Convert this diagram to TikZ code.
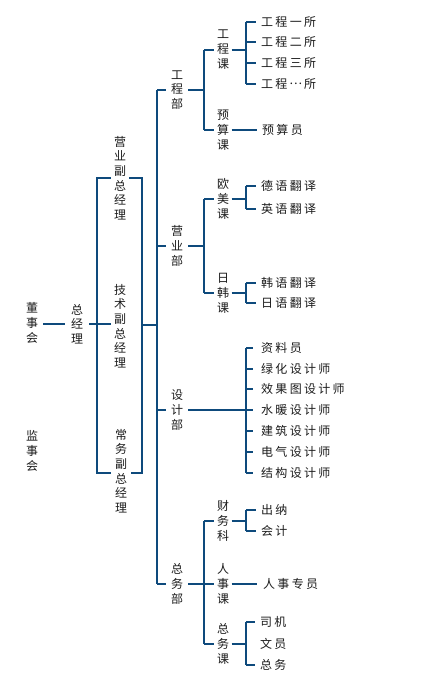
\documentclass[tikz,border=0pt]{standalone}
\usepackage{fontspec}
\setmainfont{Noto Sans CJK SC}
\newfontfamily\hfam[LetterSpace=19]{Noto Sans CJK SC}
\definecolor{lc}{HTML}{0E4A7C}
\definecolor{tc}{HTML}{1C1C1C}
\tikzset{
  ln/.style={draw=lc, line width=1.2pt},
  vt/.style={align=center, text=tc, inner xsep=5pt, inner ysep=0pt,
    font=\fontsize{12pt}{14.6pt}\selectfont},
  vtw/.style={vt, fill=white, inner xsep=3pt},
  vtc/.style={vt, inner xsep=2.5pt, font=\fontsize{12pt}{15pt}\selectfont},
  ht/.style={anchor=west, text=tc, inner xsep=5pt, inner ysep=0pt,
    font=\hfam\fontsize{12pt}{14pt}\selectfont},
}
\begin{document}
\begin{tikzpicture}[x=1pt,y=-1pt]
\useasboundingbox[fill=white] (0,0) rectangle (429,679);

% ---- level 0/1
\node[vt] (dsh) at (32,323) {董\\事\\会};
\node[vt] (jsh) at (32,451) {监\\事\\会};
\node[vt, inner xsep=6pt] (zjl) at (77,324) {总\\经\\理};

% ---- vice manager bracket
\coordinate (b1tl) at (97,178);
\coordinate (b1br) at (142,473);
\coordinate (b1r) at (142,325);
\draw[ln] (b1tl) rectangle (b1br);
\node[vtw] (yyf) at (120,178) {营\\业\\副\\总\\经\\理};
\node[vtw] (jsf) at (120,326) {技\\术\\副\\总\\经\\理};
\node[vtw, inner xsep=4pt] (cwf) at (121,471) {常\\务\\副\\总\\经\\理};

\draw[ln] (dsh.east |- 0,324) -- (zjl.west |- 0,324);
\draw[ln] (zjl.east |- 0,324) -- (jsf.west |- 0,324);

% ---- trunk
\coordinate (t1) at (157,90);
\coordinate (t2) at (157,246);
\coordinate (t3) at (157,410);
\coordinate (t4) at (157,584);
\coordinate (tm) at (157,325);
\draw[ln] (b1r) -- (tm);
\draw[ln] (t1) -- (t4);

% ---- departments
\node[vt] (gcb) at (177,90) {工\\程\\部};
\node[vt] (yyb) at (177,246) {营\\业\\部};
\node[vt] (sjb) at (177,410) {设\\计\\部};
\node[vt] (zwb) at (177,584) {总\\务\\部};
\draw[ln] (t1) -- (gcb.west);
\draw[ln] (t2) -- (yyb.west);
\draw[ln] (t3) -- (sjb.west);
\draw[ln] (t4) -- (zwb.west);

% ---- 工程部
\coordinate (g1) at (204,50);
\coordinate (g2) at (204,130);
\draw[ln] (gcb.east) -- (gcb.east -| g1);
\draw[ln] (g1) -- (g2);
\node[vtc] (gck) at (223,50) {工\\程\\课};
\node[vtc] (ysk) at (223,130) {预\\算\\课};
\draw[ln] (g1) -- (gck.west);
\draw[ln] (g2) -- (ysk.west);
\coordinate (gj) at (246,50);
\coordinate (gj1) at (246,22);
\coordinate (gj4) at (246,84);
\draw[ln] (gck.east) -- (gj);
\draw[ln] (gj1) -- (gj4);
\node[ht] (gs1) at (256,22) {工程一所};
\node[ht] (gs2) at (256,42) {工程二所};
\node[ht] (gs3) at (256,63) {工程三所};
\node[ht] (gs4) at (256,84) {工程\hspace{2.3pt}\makebox[12pt]{\raisebox{0.33em}{…}}\hspace{2.3pt}所};
\draw[ln] (gj1) -- (gs1.west);
\draw[ln] (gs2.west -| gj) -- (gs2.west);
\draw[ln] (gs3.west -| gj) -- (gs3.west);
\draw[ln] (gj4) -- (gs4.west);
\node[ht] (ysy) at (257,130) {预算员};
\draw[ln] (ysk.east) -- (ysy.west);

% ---- 营业部
\coordinate (y1) at (204,199);
\coordinate (y2) at (204,293);
\draw[ln] (yyb.east) -- (yyb.east -| y1);
\draw[ln] (y1) -- (y2);
\node[vtc] (omk) at (223,199) {欧\\美\\课};
\node[vtc] (rhk) at (223,293) {日\\韩\\课};
\draw[ln] (y1) -- (omk.west);
\draw[ln] (y2) -- (rhk.west);
\coordinate (oj) at (246,199);
\coordinate (oj1) at (246,186);
\coordinate (oj2) at (246,209);
\draw[ln] (omk.east) -- (oj);
\draw[ln] (oj1) -- (oj2);
\node[ht] (dy) at (256,186) {德语翻译};
\node[ht] (yy) at (256,209) {英语翻译};
\draw[ln] (oj1) -- (dy.west);
\draw[ln] (oj2) -- (yy.west);
\coordinate (rj) at (246,293);
\coordinate (rj1) at (246,283);
\coordinate (rj2) at (246,303);
\draw[ln] (rhk.east) -- (rj);
\draw[ln] (rj1) -- (rj2);
\node[ht] (hy) at (256,283) {韩语翻译};
\node[ht] (ry) at (256,303) {日语翻译};
\draw[ln] (rj1) -- (hy.west);
\draw[ln] (rj2) -- (ry.west);

% ---- 设计部
\coordinate (sj1) at (246,348);
\coordinate (sj7) at (246,473);
\draw[ln] (sj1) -- (sj7);
\node[ht, inner xsep=8pt] (s1) at (253,348) {资料员};
\node[ht, inner xsep=8pt] (s2) at (253,369) {绿化设计师};
\node[ht, inner xsep=8pt] (s3) at (253,389) {效果图设计师};
\node[ht, inner xsep=8pt] (s4) at (253,410) {水暖设计师};
\node[ht, inner xsep=8pt] (s5) at (253,431) {建筑设计师};
\node[ht, inner xsep=8pt] (s6) at (253,452) {电气设计师};
\node[ht, inner xsep=8pt] (s7) at (253,473) {结构设计师};
\draw[ln] (sjb.east) -- (s4.west);
\draw[ln] (sj1) -- (s1.west);
\draw[ln] (s2.west -| sj1) -- (s2.west);
\draw[ln] (s3.west -| sj1) -- (s3.west);
\draw[ln] (s5.west -| sj1) -- (s5.west);
\draw[ln] (s6.west -| sj1) -- (s6.west);
\draw[ln] (sj7) -- (s7.west);

% ---- 总务部
\coordinate (z1) at (204,521);
\coordinate (z3) at (204,644);
\coordinate (z2) at (204,584);
\draw[ln] (zwb.east) -- (z2);
\draw[ln] (z1) -- (z3);
\node[vtc] (cwk) at (223,521) {财\\务\\科};
\node[vtc] (rsk) at (223,584) {人\\事\\课};
\node[vtc] (zwk) at (223,644) {总\\务\\课};
\draw[ln] (z1) -- (cwk.west);
\draw[ln] (z2) -- (rsk.west);
\draw[ln] (z3) -- (zwk.west);
\coordinate (cj) at (246,521);
\coordinate (cj1) at (246,510);
\coordinate (cj2) at (246,531);
\draw[ln] (cwk.east) -- (cj);
\draw[ln] (cj1) -- (cj2);
\node[ht] (cn) at (256,510) {出纳};
\node[ht] (kj) at (256,531) {会计};
\draw[ln] (cj1) -- (cn.west);
\draw[ln] (cj2) -- (kj.west);
\node[ht, inner xsep=6pt] (rszy) at (257,584) {人事专员};
\draw[ln] (rsk.east) -- (rszy.west);
\coordinate (wj) at (246,644);
\coordinate (wj1) at (246,622);
\coordinate (wj3) at (246,665);
\draw[ln] (zwk.east) -- (wj);
\draw[ln] (wj1) -- (wj3);
\node[ht] (sji) at (255,622) {司机};
\node[ht] (wy) at (255,644) {文员};
\node[ht] (zw) at (255,665) {总务};
\draw[ln] (wj1) -- (sji.west);
\draw[ln] (wj3) -- (zw.west);
\end{tikzpicture}
\end{document}
